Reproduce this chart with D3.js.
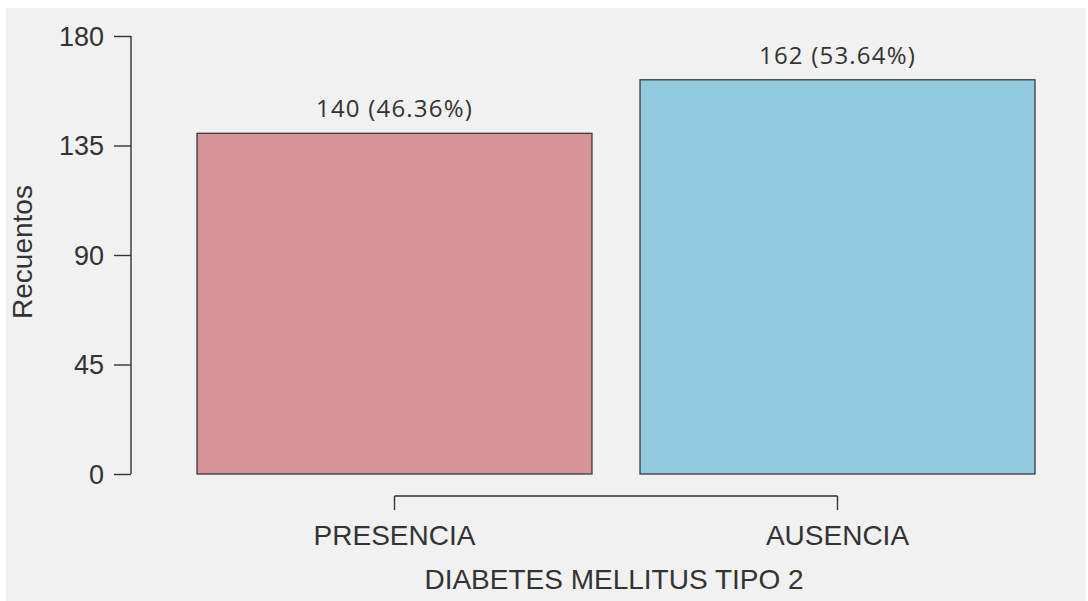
<!DOCTYPE html>
<html>
<head>
<meta charset="utf-8">
<script src="https://cdn.jsdelivr.net/npm/d3@7"></script>
<style>
  html, body { margin: 0; padding: 0; background: #ffffff; }
  svg { display: block; }
</style>
</head>
<body>
<svg id="chart" width="1088" height="601"></svg>
<script>
// Counts of type 2 diabetes mellitus
const categories = ["PRESENCIA", "AUSENCIA"];
const counts = [140, 162];
const percents = ["46.36%", "53.64%"];
const yTicks = [0, 45, 90, 135, 180];
const barColors = ["#d69496", "#93cbde"];

const svg = d3.select("#chart");

// panel background
svg.append("rect")
  .attr("x", 6).attr("y", 8)
  .attr("width", 1080).attr("height", 593)
  .attr("fill", "#f1f1f1");

const x = d3.scaleBand()
  .domain(categories)
  .range([173, 1059])
  .paddingInner(0.1084)
  .paddingOuter(0.0542);

const y = d3.scaleLinear()
  .domain([0, 180])
  .range([474, 36]);

// bars
svg.append("g").selectAll("rect")
  .data(categories)
  .join("rect")
  .attr("x", d => x(d))
  .attr("y", (d, i) => y(counts[i]))
  .attr("width", x.bandwidth())
  .attr("height", (d, i) => y(0) - y(counts[i]))
  .attr("fill", (d, i) => barColors[i])
  .attr("stroke", "#3a3a3a")
  .attr("stroke-width", 1.3);

// value labels above bars
svg.append("g").selectAll("text")
  .data(categories)
  .join("text")
  .attr("x", d => x(d) + x.bandwidth() / 2)
  .attr("y", (d, i) => y(counts[i]) - 16)
  .attr("text-anchor", "middle")
  .attr("font-family", "'Open Sans', sans-serif")
  .attr("font-size", 24)
  .attr("letter-spacing", 1.2)
  .attr("fill", "#333333")
  .text((d, i) => `${counts[i]} (${percents[i]})`);

// y axis
const yAxis = svg.append("g")
  .attr("transform", "translate(131,0)")
  .call(d3.axisLeft(y).tickValues(yTicks).tickSize(17).tickPadding(10));
yAxis.select(".domain")
  .attr("d", `M0,${y(180)}V${y(0)}`)
  .attr("stroke", "#333333").attr("stroke-width", 1.4);
yAxis.selectAll(".tick line").attr("stroke", "#333333").attr("stroke-width", 1.4);
yAxis.selectAll(".tick text")
  .attr("font-family", "'Liberation Sans', Arial, sans-serif")
  .attr("font-size", 27)
  .attr("fill", "#333333")
  .attr("dy", "0.35em");

// x axis as a bracket between the category centres
const xAxis = svg.append("g")
  .attr("transform", "translate(0,496)")
  .call(d3.axisBottom(x).tickSize(14).tickSizeOuter(0).tickPadding(15));
const centres = categories.map(d => x(d) + x.bandwidth() / 2);
xAxis.select(".domain")
  .attr("d", `M${centres[0]},0H${centres[1]}`)
  .attr("stroke", "#333333").attr("stroke-width", 1.4);
xAxis.selectAll(".tick line").attr("stroke", "#333333").attr("stroke-width", 1.4);
xAxis.selectAll(".tick text")
  .attr("font-family", "'Liberation Sans', Arial, sans-serif")
  .attr("font-size", 28)
  .attr("fill", "#333333");

// axis titles
svg.append("text")
  .attr("x", 614).attr("y", 589)
  .attr("text-anchor", "middle")
  .attr("font-family", "'Liberation Sans', Arial, sans-serif")
  .attr("font-size", 28)
  .attr("fill", "#333333")
  .text("DIABETES MELLITUS TIPO 2");

svg.append("text")
  .attr("transform", "translate(32,252) rotate(-90)")
  .attr("text-anchor", "middle")
  .attr("font-family", "'Liberation Sans', Arial, sans-serif")
  .attr("font-size", 28)
  .attr("fill", "#333333")
  .text("Recuentos");
</script>
</body>
</html>
